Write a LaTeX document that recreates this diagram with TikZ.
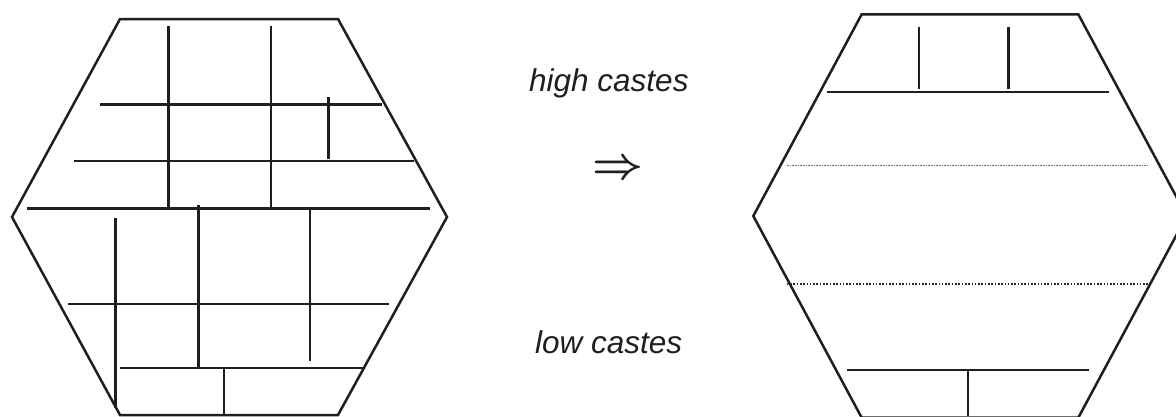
\documentclass[tikz,border=0pt]{standalone}
\usepackage{fontspec}
\setmainfont{Liberation Sans}
\begin{document}
\begin{tikzpicture}[x=1pt,y=-1pt,
  wall/.style={line width=2.4pt,draw=black!88,line cap=butt},
  hexline/.style={line width=2.5pt,draw=black!88,line join=miter},
  faintdots/.style={line width=0.8pt,draw=black!55,dash pattern=on 0.8pt off 0.8pt},
  dots/.style={line width=1.8pt,draw=black!85,dash pattern=on 1.6pt off 1.7pt},
  label/.style={font=\fontsize{31.5}{31.5}\selectfont\itshape,text=black!88,inner sep=0pt,anchor=base west}]
\useasboundingbox (0,0) rectangle (1176,416);
\clip (0,0) rectangle (1176,416);
\fill[white] (0,0) rectangle (1176,416);

% left hexagon
\draw[hexline] (120,19) -- (338,19) -- (447,217) -- (338,415) -- (120,415) -- (12,217) -- cycle;
\draw[wall] (168.3,25.7) -- (168.3,208.3);
\draw[wall] (271,25.7) -- (271,208.3);
\draw[wall] (100.3,104.3) -- (382,104.3);
\draw[wall] (328.3,97.3) -- (328.3,159.3);
\draw[wall] (73.7,160.7) -- (414.3,160.7);
\draw[wall] (27.3,208.3) -- (430,208.3);
\draw[wall] (115.3,217.7) -- (115.3,408.3);
\draw[wall] (198.3,204.7) -- (198.3,367.7);
\draw[wall] (309.7,208.3) -- (309.7,360.7);
\draw[wall] (68,304) -- (389.3,304);
\draw[wall] (120,367.7) -- (363.3,367.7);
\draw[wall] (223.7,367.7) -- (223.7,416);

% right hexagon
\draw[hexline] (861.7,14.3) -- (1078.3,14.3) -- (1186.7,216) -- (1078.3,417.7) -- (861.7,417.7) -- (753.3,216) -- cycle;
\draw[wall] (919,26.7) -- (919,89.3);
\draw[wall] (1008.3,26.7) -- (1008.3,89.3);
\draw[wall] (826.7,91.7) -- (1109,91.7);
\draw[faintdots] (786.7,165.3) -- (1147.7,165.3);
\draw[dots] (786.7,284.3) -- (1149,284.3);
\draw[wall] (847,369.7) -- (1088.7,369.7);
\draw[wall] (967.7,369.7) -- (967.7,416);

% labels
\node[label] (high) at (529,91.7) {high castes};
\node[label] (low) at (535,353.3) {low castes};
\node[inner sep=0pt,text=black!88] (arrow) at (618,170) {\resizebox{51pt}{!}{\boldmath$\Rightarrow$}};
\end{tikzpicture}
\end{document}
